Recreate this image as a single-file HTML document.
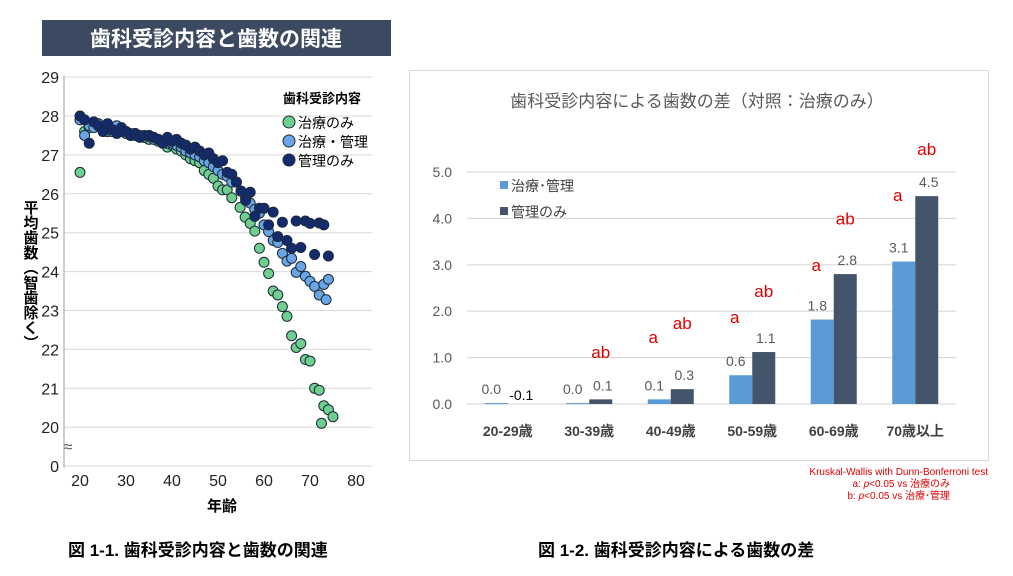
<!DOCTYPE html>
<html><head><meta charset="utf-8"><style>
body{margin:0;background:#fff;font-family:"Liberation Sans","Noto Sans CJK JP",sans-serif;}
#wrap{position:relative;width:1013px;height:576px;overflow:hidden;}
</style></head><body><div id="wrap">
<svg id="svg" width="1013" height="576" xmlns="http://www.w3.org/2000/svg" style="font-family:'Liberation Sans','Noto Sans CJK JP',sans-serif">
<rect x="42" y="20" width="349" height="36" fill="#3b4a60"/>
<text x="216" y="46" text-anchor="middle" fill="#fff" font-size="21" font-weight="bold">歯科受診内容と歯数の関連</text>
<g id="left"></g>
<rect x="409.5" y="70.5" width="579" height="390" fill="none" stroke="#d9d9d9"/>
<text x="697" y="107" text-anchor="middle" fill="#595959" font-size="17">歯科受診内容による歯数の差（対照：治療のみ）</text>
<g id="right"></g>
<text x="988" y="475" text-anchor="end" fill="#e00000" font-size="10">Kruskal-Wallis with Dunn-Bonferroni test</text>
<text x="950" y="487" text-anchor="end" fill="#e00000" font-size="10">a: <tspan font-style="italic">p</tspan>&lt;0.05 vs 治療のみ</text>
<text x="950" y="499" text-anchor="end" fill="#e00000" font-size="10">b: <tspan font-style="italic">p</tspan>&lt;0.05 vs 治療･管理</text>
<text x="68" y="556" font-size="17" font-weight="bold" fill="#000">図 1-1. 歯科受診内容と歯数の関連</text>
<text x="538" y="556" font-size="17" font-weight="bold" fill="#000">図 1-2. 歯科受診内容による歯数の差</text>
</svg></div>
<script>
// ---- scatter data ----
const greenAges=[20,21,22,23,24,25,26,27,28,29,30,31,32,33,34,35,36,37,38,39,40,41,42,43,44,45,46,47,48,49,50,51,52,53,54.8,55.9,57,58,59,60,61,62,63,64,65,66,67,68,69,70,71,72,72.5,73,74,75];
const greenVals=[26.55,27.6,27.7,27.75,27.8,27.7,27.6,27.7,27.65,27.6,27.55,27.5,27.55,27.5,27.45,27.4,27.45,27.35,27.3,27.2,27.25,27.15,27.1,27.0,26.9,26.85,26.8,26.6,26.5,26.4,26.2,26.1,26.1,25.9,25.65,25.4,25.24,25.04,24.6,24.24,23.95,23.5,23.4,23.1,22.85,22.35,22.05,22.15,21.74,21.7,21.0,20.95,20.1,20.55,20.45,20.27];
const blueAges=[20,21,22,23,24,25,26,27,28,29,30,31,32,33,34,35,36,37,38,39,40,41,42,43,44,45,46,47,48,49,50,51,52,53,54,55,56,57,58,59,60,61,62,63,64,65,66,67,68,69,70,71,72,73,73.5,74];
const blueVals=[27.9,27.5,27.75,27.7,27.8,27.65,27.7,27.6,27.75,27.6,27.6,27.55,27.5,27.5,27.45,27.5,27.4,27.4,27.35,27.3,27.3,27.25,27.2,27.1,27.05,27.0,26.95,26.85,26.8,26.7,26.6,26.5,26.45,26.3,26.3,26.07,25.9,25.76,25.6,25.5,25.2,25.03,24.8,24.75,24.47,24.27,24.34,23.98,24.13,23.88,23.75,23.62,23.4,23.67,23.28,23.8];
const navyAges=[20,21,22,23,24,25,26,27,28,29,30,31,32,33,34,35,36,37,38,39,40,41,42,43,44,45,46,47,48,49,50,51,52,53,54,55,56,57,58,59,60,61,62,63,64,65,66,67,68,69,70,71,72,73,74];
const navyVals=[28.0,27.9,27.3,27.85,27.75,27.6,27.8,27.65,27.55,27.7,27.6,27.5,27.55,27.45,27.5,27.5,27.45,27.4,27.3,27.45,27.35,27.4,27.3,27.25,27.15,27.2,27.1,27.0,27.05,26.9,26.8,26.85,26.55,26.5,26.3,26.07,25.83,26.04,25.42,25.63,25.63,25.2,25.53,24.9,25.27,24.8,24.6,25.3,24.62,25.3,25.24,24.44,25.25,25.2,24.4].slice(0,55);
const xTicks=[20,30,40,50,60,70,80];
const yTicks=[20,21,22,23,24,25,26,27,28,29];
// ---- bar data ----
const barCats=['20-29歳','30-39歳','40-49歳','50-59歳','60-69歳','70歳以上'];
const seriesA=[0.02,0.02,0.1,0.62,1.82,3.07];
const seriesB=[-0.05,0.1,0.32,1.12,2.8,4.48];
const labelsA=['0.0','0.0','0.1','0.6','1.8','3.1'];
const labelsB=['-0.1','0.1','0.3','1.1','2.8','4.5'];
const sigA=['','','a','a','a','a'];
const sigAy=[0,0,1.44,1.87,3.0,4.5];
const sigB=['','ab','ab','ab','ab','ab'];
const sigBy=[0,1.12,1.75,2.43,4.0,5.5];
const barTicks=[0,1,2,3,4,5];

const NS='http://www.w3.org/2000/svg';
function mk(p,t,a){const e=document.createElementNS(NS,t);for(const k in a)e.setAttribute(k,a[k]);p.appendChild(e);return e;}
// scatter axes
const L=document.getElementById('left');
const sx=v=>80+(v-20)*4.6;
const sy=v=>116-(v-28)*38.9;
yTicks.forEach(t=>{const g=mk(L,'line',{x1:64,x2:372,y1:sy(t),y2:sy(t),stroke:'#d9d9d9'});


const tx=mk(L,'text',{x:59,y:sy(t)+6,'text-anchor':'end','font-size':16,fill:'#222'});tx.textContent=t;

});
let b=mk(L,'line',{x1:64,x2:372,y1:466,y2:466,stroke:'#d9d9d9'});


let t0=mk(L,'text',{x:59,y:472,'text-anchor':'end','font-size':16,fill:'#222'});t0.textContent='0';


let ax=mk(L,'line',{x1:64,x2:64,y1:76,y2:468,stroke:'#bfbfbf','stroke-width':1.5});


let br=mk(L,'text',{x:68,y:452,'text-anchor':'middle','font-size':16,fill:'#555'});br.textContent='≈';


xTicks.forEach(t=>{const tx=mk(L,'text',{x:sx(t),y:486,'text-anchor':'middle','font-size':16,fill:'#222'});tx.textContent=t;

});
let xl=mk(L,'text',{x:222,y:511,'text-anchor':'middle','font-size':15,'font-weight':'bold'});xl.textContent='年齢';


let yl=mk(L,'text',{x:30,y:200,'font-size':15,'font-weight':'bold','writing-mode':'tb','glyph-orientation-vertical':0});yl.textContent='平均歯数（智歯除く）';


function series(ages,vals,col,name){vals.forEach((v,i)=>{const c=mk(L,'circle',{cx:sx(ages[i]),cy:sy(v),r:5,fill:col,stroke:'#1a2a3a','stroke-width':1});

});}
series(greenAges,greenVals,'#6fcf8f','point-treatment-only');
series(blueAges,blueVals,'#6aa5e6','point-treatment-management');
series(navyAges,navyVals,'#142a6e','point-management-only');
let lt=mk(L,'text',{x:283,y:103,'font-size':13,'font-weight':'bold'});lt.textContent='歯科受診内容';


[['治療のみ','#6fcf8f'],['治療・管理','#6aa5e6'],['管理のみ','#142a6e']].forEach((d,i)=>{const y=122+i*19;
const c=mk(L,'circle',{cx:289,cy:y,r:6,fill:d[1],stroke:'#1a2a3a'});


const tx=mk(L,'text',{x:298,y:y+6,'font-size':14});tx.textContent=d[0];

});
// bar chart
const R=document.getElementById('right');
const x0=467,gw=81.5,bw=23;
const by=v=>404-v*46.4;
barTicks.forEach(t=>{const g=mk(R,'line',{x1:x0,x2:956,y1:by(t),y2:by(t),stroke:'#d9d9d9','stroke-width':1.2});


const tx=mk(R,'text',{x:452,y:by(t)+5,'text-anchor':'end','font-size':14,fill:'#595959'});tx.textContent=t.toFixed(1);

});
barCats.forEach((c,i)=>{const cx=x0+gw*(i+0.5);
const va=seriesA[i],vb=seriesB[i];
const ra=mk(R,'rect',{x:cx-bw,y:Math.min(by(va),by(0)),width:bw,height:Math.max(1,Math.abs(by(va)-by(0))),fill:'#5b9bd5'});


const rb=mk(R,'rect',{x:cx,y:Math.min(by(Math.max(vb,0)),by(0)),width:bw,height:Math.max(0,by(0)-by(Math.max(vb,0))),fill:'#44546a'});


const la=mk(R,'text',{x:cx-bw/2-5,y:by(Math.max(va,0))-9,'text-anchor':'middle','font-size':14,fill:'#595959'});la.textContent=labelsA[i];


const lb=mk(R,'text',{x:cx+bw/2+2,y:by(Math.max(vb,0))-(vb<0?4:9),'text-anchor':'middle','font-size':14,fill:vb<0?'#000':'#595959'});lb.textContent=labelsB[i];


if(sigA[i]){const s=mk(R,'text',{x:cx-bw/2-6,y:by(sigAy[i])+6,'text-anchor':'middle','font-size':17,fill:'#e00000'});s.textContent=sigA[i];

}
if(sigB[i]){const s=mk(R,'text',{x:cx+bw/2,y:by(sigBy[i])+6,'text-anchor':'middle','font-size':17,fill:'#e00000'});s.textContent=sigB[i];

}
const cl=mk(R,'text',{x:cx,y:436,'text-anchor':'middle','font-size':14,'font-weight':'bold',fill:'#404040'});cl.textContent=c;

});
[['治療･管理','#5b9bd5'],['管理のみ','#44546a']].forEach((d,i)=>{const y=186+i*26;
const r=mk(R,'rect',{x:500,y:y-5,width:8,height:8,fill:d[1]});


const tx=mk(R,'text',{x:511,y:y+5,'font-size':14,fill:'#404040'});tx.textContent=d[0];

});
</script></body></html>
